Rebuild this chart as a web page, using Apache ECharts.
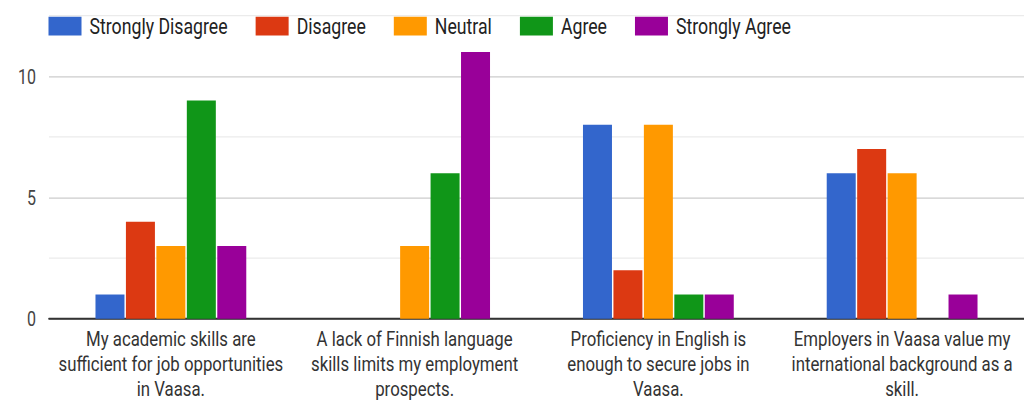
<!DOCTYPE html>
<html>
<head>
<meta charset="utf-8">
<script src="https://cdn.jsdelivr.net/npm/echarts@6/dist/echarts.min.js"></script>
<style>
html,body{margin:0;padding:0;background:#fff;overflow:hidden;width:1024px;height:401px;}
#chart{width:1024px;height:321px;transform:scaleY(1.25);transform-origin:0 0;}
</style>
</head>
<body>
<div id="chart"></div>
<script>
const categories = [
  'My academic skills are\nsufficient for job opportunities\nin Vaasa.',
  'A lack of Finnish language\nskills limits my employment\nprospects.',
  'Proficiency in English is\nenough to secure jobs in\nVaasa.',
  'Employers in Vaasa value my\ninternational background as a\nskill.'
];
const seriesNames = ['Strongly Disagree', 'Disagree', 'Neutral', 'Agree', 'Strongly Agree'];
const stronglyDisagree = [1, 0, 8, 6];
const disagree = [4, 0, 2, 7];
const neutral = [3, 3, 8, 6];
const agree = [9, 6, 1, 0];
const stronglyAgree = [3, 11, 1, 1];
const yMin = 0, yMax = 12.5, yStep = 2.5;

const seriesData = [stronglyDisagree, disagree, neutral, agree, stronglyAgree];
const colors = ['#3366cc', '#dc3912', '#ff9900', '#109618', '#990099'];
const font = 'Roboto, "Liberation Sans", Arial, sans-serif';

const chart = echarts.init(document.getElementById('chart'), null, {renderer: 'svg'});
chart.setOption({
  animation: false,
  color: colors,
  legend: {
    left: 48.5, top: 11.8, padding: 0,
    itemWidth: 33, itemHeight: 15, itemGap: 28,
    icon: 'rect',
    textStyle: {fontFamily: font, fontSize: 17.7, color: '#222', padding: [0, 0, 0, 3]},
    data: seriesNames
  },
  grid: {left: 49, top: 12.6, width: 984, bottom: 63.2, containLabel: false},
  xAxis: {
    type: 'category',
    data: categories,
    axisTick: {show: false},
    axisLine: {lineStyle: {color: '#333', width: 1.6}},
    axisLabel: {fontFamily: font, fontSize: 16.8, color: '#333', lineHeight: 20, margin: 6, interval: 0}
  },
  yAxis: {
    type: 'value',
    min: yMin, max: yMax, interval: yStep,
    axisLine: {show: false},
    axisTick: {show: false},
    axisLabel: {
      fontFamily: font, fontSize: 16, color: '#444', margin: 13,
      formatter: v => (v % 5 === 0 ? String(v) : '')
    },
    splitLine: {lineStyle: {color: ['#cccccc', '#ebebeb'], width: 1}}
  },
  series: seriesNames.map((n, i) => ({
    name: n,
    type: 'bar',
    data: seriesData[i],
    barWidth: 29,
    barGap: '5%',
    itemStyle: {color: colors[i]}
  }))
});
</script>
</body>
</html>
